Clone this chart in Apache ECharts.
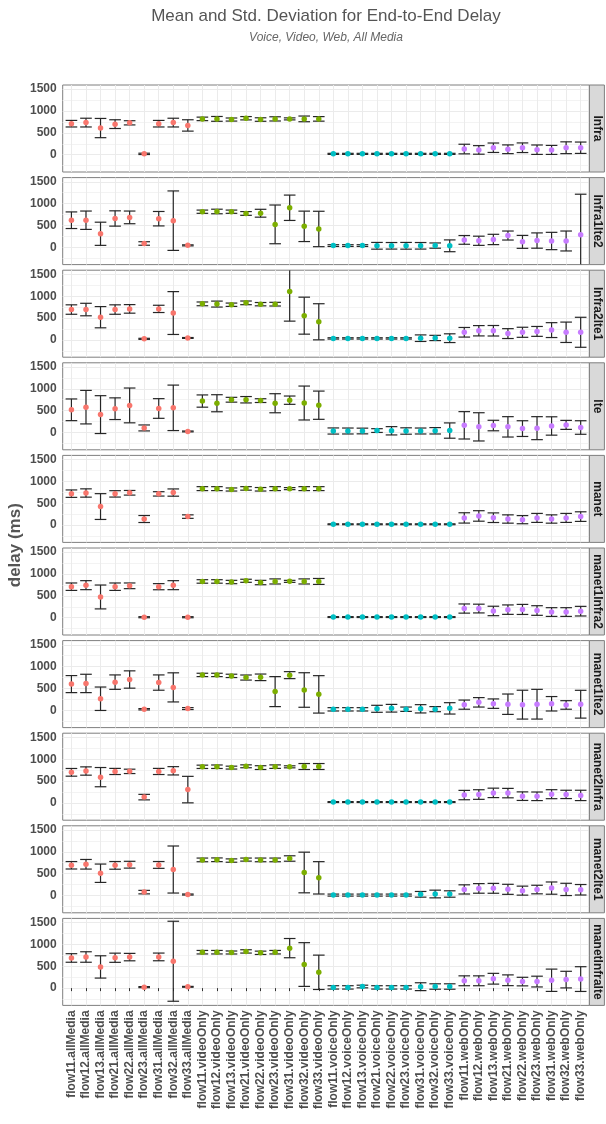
<!DOCTYPE html>
<html><head><meta charset="utf-8">
<script src="https://cdn.jsdelivr.net/npm/echarts@6/dist/echarts.min.js"></script>
<style>html,body{margin:0;padding:0;background:#fff}#c{width:606px;height:1124px}</style>
</head><body><div id="c"></div>
<script>
const categories = [
  'flow11.allMedia','flow12.allMedia','flow13.allMedia','flow21.allMedia','flow22.allMedia','flow23.allMedia','flow31.allMedia','flow32.allMedia','flow33.allMedia',
  'flow11.videoOnly','flow12.videoOnly','flow13.videoOnly','flow21.videoOnly','flow22.videoOnly','flow23.videoOnly','flow31.videoOnly','flow32.videoOnly','flow33.videoOnly',
  'flow11.voiceOnly','flow12.voiceOnly','flow13.voiceOnly','flow21.voiceOnly','flow22.voiceOnly','flow23.voiceOnly','flow31.voiceOnly','flow32.voiceOnly','flow33.voiceOnly',
  'flow11.webOnly','flow12.webOnly','flow13.webOnly','flow21.webOnly','flow22.webOnly','flow23.webOnly','flow31.webOnly','flow32.webOnly','flow33.webOnly'
];
const mediaColors = ['#F8766D','#7CAE00','#00BFC4','#C77CFF'];
const panelNames = ['Infra','Infra1lte2','Infra2lte1','lte','manet','manet1Infra2','manet1lte2','manet2Infra','manet2lte1','manetInfralte'];
const yTicks = [0,500,1000,1500];
const yMinorTicks = [-250,250,750,1250];

const infraMean = [710,735,610,700,730,20,710,735,670, 820,820,805,835,805,820,820,820,820, 20,20,20,20,20,20,20,20,20, 130,110,160,125,160,115,110,160,160];
const infraSd   = [75,100,220,100,48,15,75,100,130, 40,55,35,38,40,48,23,65,52, 12,12,12,12,12,12,12,12,12, 110,98,108,100,110,108,103,135,130];
const infra1lte2Mean = [620,620,310,660,685,88,655,610,45, 815,820,815,775,780,525,905,480,420, 40,40,40,35,35,35,35,40,35, 170,150,180,270,125,155,145,145,285];
const infra1lte2Sd   = [190,210,265,175,145,40,165,680,12, 37,52,37,43,90,443,290,348,405, 20,20,20,77,75,77,75,60,135, 100,105,118,103,148,175,198,228,930];
const infra2lte1Mean = [695,695,520,695,710,25,710,615,45, 825,820,805,848,818,818,1105,555,415, 35,35,35,35,35,35,40,45,40, 175,210,210,145,175,195,225,175,175];
const infra2lte1Sd   = [108,143,243,108,98,12,83,490,10, 43,68,38,42,38,42,675,423,413, 15,15,15,15,15,15,75,60,100, 110,118,120,113,115,113,170,233,343];
const lteMean = [520,580,410,545,620,105,550,565,25, 720,670,750,750,730,670,740,675,625, 35,35,35,45,40,35,35,40,45, 165,130,160,130,90,100,150,175,115];
const lteSd   = [248,383,433,248,398,68,225,520,10, 140,195,55,73,43,218,95,388,323, 70,68,65,43,95,73,68,73,175, 313,323,120,233,180,263,210,103,155];
const manetMean = [720,735,425,715,740,140,715,745,195, 835,835,815,840,820,835,835,835,835, 20,20,20,20,20,20,20,20,20, 165,210,170,140,125,165,140,165,195];
const manetSd   = [85,95,295,73,53,80,50,83,40, 45,45,35,40,40,45,23,45,45, 10,10,10,10,10,10,10,10,10, 118,120,110,95,93,103,95,103,110];
const manet1Infra2Mean = [710,745,475,710,730,12,710,745,12, 830,830,817,845,805,830,832,830,830, 15,15,15,15,15,15,15,15,15, 210,210,155,185,190,165,130,130,150];
const manet1Infra2Sd   = [85,103,273,85,65,12,70,103,12, 40,40,38,35,50,58,23,58,68, 10,10,10,10,10,10,10,10,10, 105,100,108,108,115,110,100,100,110];
const manet1lte2Mean = [600,615,265,645,705,25,635,525,40, 810,810,788,750,755,428,805,465,365, 23,23,23,35,48,25,35,27,45, 130,183,153,140,130,140,150,123,140];
const manet1lte2Sd   = [195,210,268,165,198,15,175,333,22, 38,38,38,58,75,343,80,395,428, 38,38,38,80,88,50,95,58,130, 105,108,108,233,330,340,165,98,318];
const manet2InfraMean = [700,730,590,720,722,133,720,735,305, 826,828,808,838,808,830,826,833,833, 20,20,20,20,20,20,20,20,20, 180,192,230,225,155,152,200,195,172];
const manet2InfraSd   = [88,95,220,70,50,63,70,95,303, 38,40,33,33,43,40,23,68,68, 10,10,10,10,10,10,10,10,10, 107,110,108,108,98,98,103,95,118];
const manet2lte1Mean = [692,715,510,690,705,78,700,595,23, 815,818,800,822,815,815,847,527,405, 10,10,10,10,10,10,28,35,35, 140,163,165,142,112,137,170,140,132];
const manet2lte1Sd   = [85,110,210,88,78,40,78,538,12, 42,42,38,35,42,42,62,465,370, 23,23,23,23,23,23,65,88,73, 105,110,113,115,103,98,140,140,120];
const manetInfralteMean = [690,712,485,695,710,23,714,615,30, 822,822,815,840,808,822,915,540,362, 17,17,37,17,17,17,33,37,37, 168,168,215,180,150,150,180,195,207];
const manetInfralteSd   = [98,120,255,105,85,12,88,915,10, 40,40,34,38,38,40,220,500,393, 38,38,30,38,38,38,90,62,62, 113,113,123,123,98,123,255,190,283];

const panelMeans = [infraMean, infra1lte2Mean, infra2lte1Mean, lteMean, manetMean, manet1Infra2Mean, manet1lte2Mean, manet2InfraMean, manet2lte1Mean, manetInfralteMean];
const panelSds = [infraSd, infra1lte2Sd, infra2lte1Sd, lteSd, manetSd, manet1Infra2Sd, manet1lte2Sd, manet2InfraSd, manet2lte1Sd, manetInfralteSd];

const FONT = '"Liberation Sans", Arial, sans-serif';
const Y_MIN = -395, Y_MAX = 1595;
const X_MIN = -0.6, X_MAX = 35.6;
const GRID_LEFT = 62.7, GRID_RIGHT_EDGE = 589.4, W = 606;
const TOP0 = 85, PITCH = 92.6, PH = 87;
const STRIP_W = 15;
const BORDER = '#7f7f7f';
const xIdx = categories.map((c, i) => i);
const N = panelNames.length;

const grids = [], xAxes = [], yAxes = [], series = [], graphics = [];
for (let i = 0; i < N; i++) {
  const top = TOP0 + PITCH * i;
  grids.push({left: GRID_LEFT, right: W - GRID_RIGHT_EDGE, top: top, height: PH, show: true,
    backgroundColor: '#fff', borderColor: BORDER, borderWidth: 1, containLabel: false});
  const last = i === N - 1;
  xAxes.push({type: 'value', gridIndex: i, min: X_MIN, max: X_MAX,
    axisLine: {show: false},
    axisTick: {show: last, customValues: xIdx, length: 3, lineStyle: {color: '#333'}},
    axisLabel: {show: last, customValues: xIdx, formatter: v => categories[Math.round(v)] || '',
      rotate: 90, fontSize: 12, fontWeight: 'bold', color: '#4d4d4d', margin: 5, fontFamily: FONT},
    splitLine: {show: true, lineStyle: {color: '#ebebeb', width: 1}}});
  yAxes.push({type: 'value', gridIndex: i, min: Y_MIN, max: Y_MAX, position: 'left',
    axisLine: {show: false},
    axisTick: {show: false, customValues: yTicks},
    axisLabel: {customValues: yTicks, formatter: v => String(v), fontSize: 12, fontWeight: 'bold',
      color: '#4d4d4d', margin: 6, fontFamily: FONT},
    splitLine: {show: true, lineStyle: {color: '#ebebeb', width: 1}}});
  yAxes.push({type: 'value', gridIndex: i, min: Y_MIN, max: Y_MAX, position: 'right',
    axisLine: {show: false},
    axisTick: {show: false, customValues: yMinorTicks},
    axisLabel: {show: false},
    splitLine: {show: true, lineStyle: {color: '#f3f3f3', width: 1}}});

  const means = panelMeans[i], sds = panelSds[i];
  series.push({type: 'custom', xAxisIndex: i, yAxisIndex: 2 * i, silent: true, z: 3,
    data: means.map((m, k) => [k, m - sds[k], m + sds[k]]),
    encode: {x: 0, y: [1, 2]},
    renderItem: function (params, api) {
      const x = api.value(0);
      const lo = api.value(1), hi = api.value(2);
      const loC = Math.max(lo, Y_MIN), hiC = Math.min(hi, Y_MAX);
      const pLo = api.coord([x, loC]), pHi = api.coord([x, hiC]);
      const hw = api.size([0.8, 0])[0] / 2;
      const st = {stroke: '#262626', lineWidth: 1.2};
      const ch = [{type: 'line', shape: {x1: pLo[0], y1: pLo[1], x2: pHi[0], y2: pHi[1]}, style: st}];
      if (hi <= Y_MAX) ch.push({type: 'line', shape: {x1: pHi[0] - hw, y1: pHi[1], x2: pHi[0] + hw, y2: pHi[1]}, style: st});
      if (lo >= Y_MIN) ch.push({type: 'line', shape: {x1: pLo[0] - hw, y1: pLo[1], x2: pLo[0] + hw, y2: pLo[1]}, style: st});
      return {type: 'group', children: ch};
    }});
  series.push({type: 'scatter', xAxisIndex: i, yAxisIndex: 2 * i, silent: true, z: 4,
    symbolSize: 5.5,
    data: means.map((m, k) => [k, m]),
    itemStyle: {opacity: 1, color: p => mediaColors[Math.floor(p.data[0] / 9)]}});

  graphics.push({type: 'rect', shape: {x: GRID_RIGHT_EDGE, y: top, width: STRIP_W, height: PH},
    style: {fill: '#d9d9d9', stroke: BORDER, lineWidth: 1}, z: 10});
  graphics.push({type: 'text', x: GRID_RIGHT_EDGE + STRIP_W / 2, y: top + PH / 2, rotation: -Math.PI / 2,
    style: {text: panelNames[i], align: 'center', verticalAlign: 'middle', fontSize: 12, fontWeight: 'bold',
      fill: '#1a1a1a', fontFamily: FONT}, z: 11});
}
graphics.push({type: 'text', x: 15, y: TOP0 + (PITCH * (N - 1) + PH) / 2, rotation: Math.PI / 2,
  style: {text: 'delay (ms)', align: 'center', verticalAlign: 'middle', fontSize: 17, fontWeight: 'bold',
    fill: '#555', fontFamily: FONT}, z: 11});

const chart = echarts.init(document.getElementById('c'), null, {renderer: 'canvas'});
chart.setOption({
  animation: false,
  backgroundColor: '#fff',
  textStyle: {fontFamily: FONT},
  title: {text: 'Mean and Std. Deviation for End-to-End Delay', subtext: 'Voice, Video, Web, All Media',
    left: 326, top: 8, textAlign: 'center', padding: 0, itemGap: 7,
    textStyle: {fontSize: 17, fontWeight: 'normal', color: '#555', fontFamily: FONT},
    subtextStyle: {fontSize: 12, fontStyle: 'italic', color: '#666', fontFamily: FONT}},
  grid: grids, xAxis: xAxes, yAxis: yAxes, series: series, graphic: graphics
});
</script></body></html>
